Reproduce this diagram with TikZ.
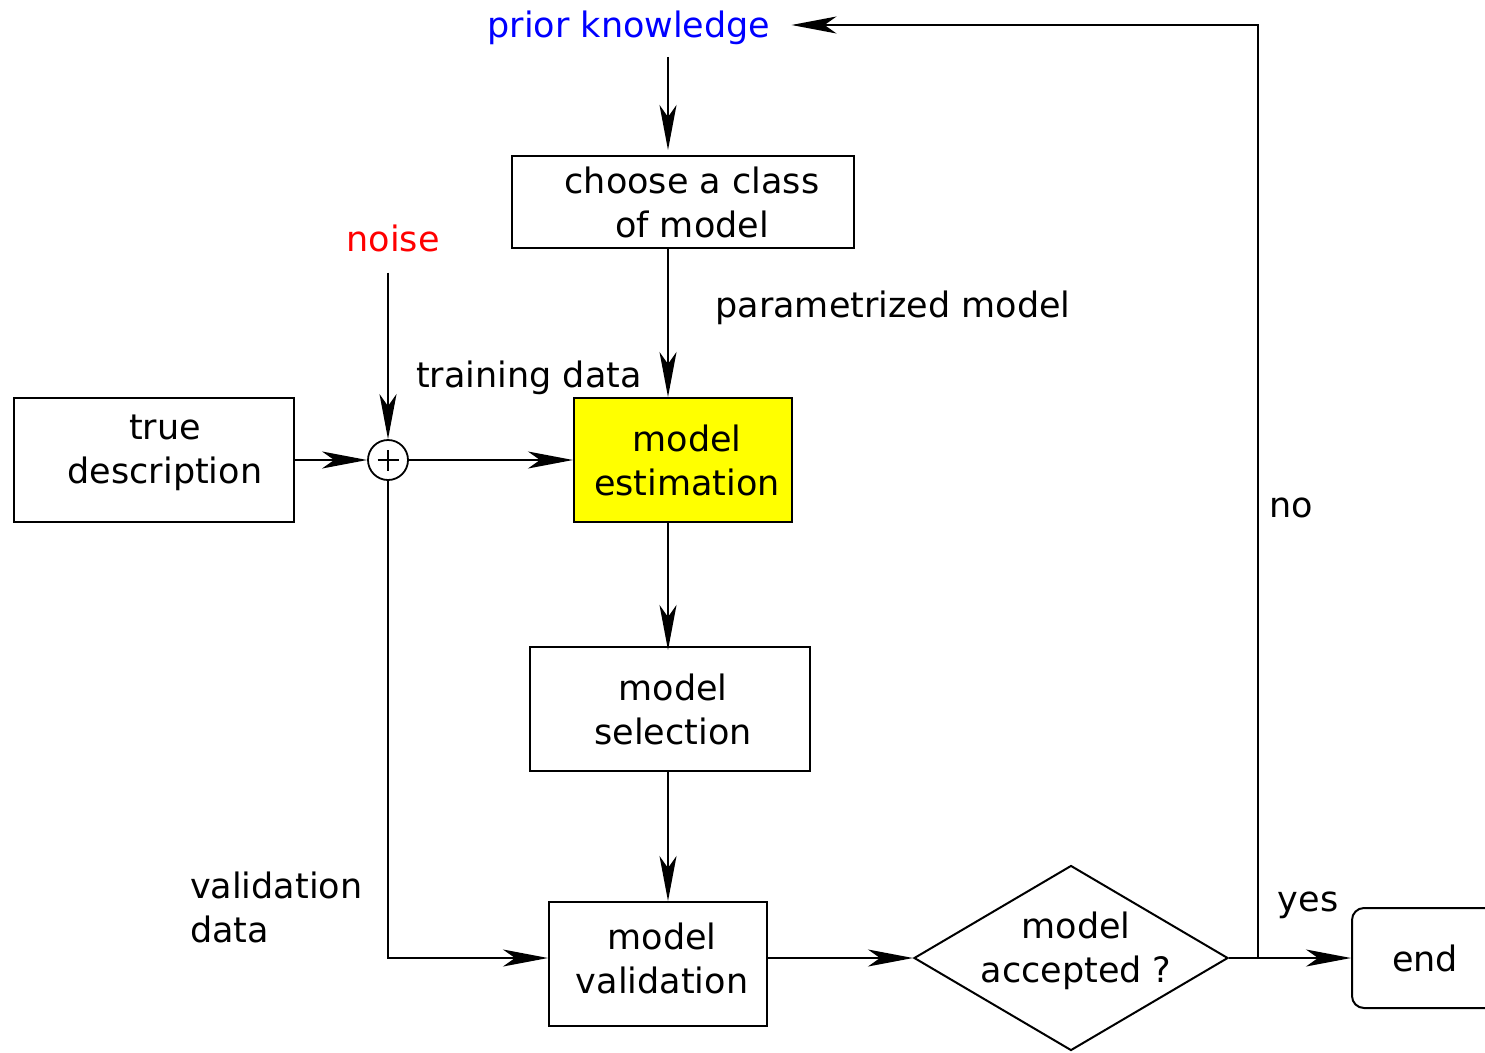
\documentclass[tikz,border=0pt]{standalone}
\usepackage{fontspec}
\setmainfont{DejaVu Sans}
\usetikzlibrary{arrows.meta,shapes.geometric,calc}
\begin{document}
\begin{tikzpicture}[x=1pt,y=-1pt,
  font=\fontsize{35}{44}\selectfont,
  line width=2pt,
  arr/.style={-{Stealth[length=45pt,width=17pt,inset=12pt]}},
  box/.style={draw,rectangle,align=center,inner sep=0pt},
  lbl/.style={inner sep=0pt,align=center}]
\clip (0,0) rectangle (1485,1052);

% column and row references
\coordinate (col) at (668,0);
\coordinate (nox) at (1258,0);

% text labels
\node[lbl,text={rgb,255:red,0;green,0;blue,255}] (prior) at (629,28) {prior knowledge};
\node[lbl,text={rgb,255:red,255;green,0;blue,0}] (noise) at (393,238) {noise};
\node[lbl] (train) at (529,378) {training data};
\node[lbl] (param) at (893,308) {parametrized model};
\node[lbl,align=left,anchor=west] (vdata) at (189,907) {validation\\data};
\node[lbl] (no) at (1291,508) {no};
\node[lbl] (yes) at (1308,905) {yes};

% process boxes
\node[box,minimum width=342,minimum height=92] (choose) at (683,202) {\hspace*{18pt}choose a class\\\hspace*{18pt}of model};
\node[box,minimum width=280,minimum height=124] (truedesc) at (154,460) {};
\node[lbl] (truedesctxt) at (165,453) {true\\description};
\node[box,fill={rgb,255:red,255;green,255;blue,0},minimum width=218,minimum height=124] (est) at (683,460) {\hspace*{8pt}model\\\hspace*{8pt}estimation};
\node[box,minimum width=280,minimum height=124] (sel) at (670,709) {\hspace*{6pt}model\\\hspace*{6pt}selection};
\node[box,minimum width=218,minimum height=124] (valid) at (658,964) {};
\node[lbl] (validtxt) at (662,958) {model\\validation};
\node[draw,diamond,minimum width=314,minimum height=185,inner sep=0pt] (diam) at (1071,958) {};
\node[lbl] (diamtext) at (1076,951) {model\\accepted ?};
\node[draw,rectangle,rounded corners=12pt,minimum width=146,minimum height=100,inner sep=0pt] (end) at (1425,958) {\raisebox{-10pt}{end}};

% summing junction
\node[draw,circle,minimum size=40,inner sep=0pt,line width=1.8pt] (sum) at (388,460) {};
\draw[line width=1.6pt] ([xshift=-10.5pt]sum.center) -- ([xshift=10.5pt]sum.center)
  ([yshift=-10.5pt]sum.center) -- ([yshift=10.5pt]sum.center);

% connectors
\draw[arr] ([yshift=-11pt]prior.south -| col) -- ([yshift=5pt]choose.north -| col);
\draw[arr] (choose.south -| col) -- (est.north -| col);
\draw[arr] ([yshift=-20pt]noise.south -| sum) -- (sum.north);
\draw[arr] (truedesc.east) -- (sum.west);
\draw[arr] (sum.east) -- (est.west);
\draw[arr] (est.south -| col) -- ([yshift=-4pt]sel.north -| col);
\draw[arr] (sel.south -| col) -- (valid.north -| col);
\draw[arr] (sum.south) |- (valid.west |- diam.west);
\draw[arr] (valid.east |- diam.west) -- (diam.west);
\draw[arr] (diam.east) -- (end.west);
\draw[arr] (diam.east -| nox) |- ([xshift=20pt,yshift=3pt]prior.east);
\end{tikzpicture}
\end{document}
